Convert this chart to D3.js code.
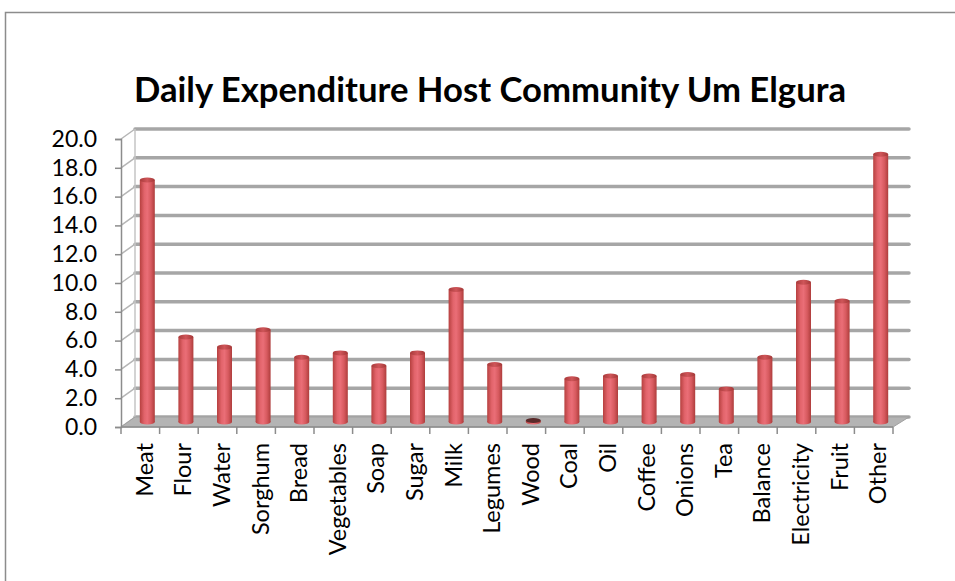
<!DOCTYPE html>
<html>
<head>
<meta charset="utf-8">
<script src="https://cdn.jsdelivr.net/npm/d3@7"></script>
<style>
  html, body { margin: 0; padding: 0; background: #fff; }
  svg { display: block; }
</style>
</head>
<body>
<svg id="chart" width="955" height="581"></svg>
<script>
// Daily expenditure by item
const categories = ["Meat", "Flour", "Water", "Sorghum", "Bread", "Vegetables", "Soap", "Sugar", "Milk", "Legumes",
                    "Wood", "Coal", "Oil", "Coffee", "Onions", "Tea", "Balance", "Electricity", "Fruit", "Other"];
const values = [16.8, 5.9, 5.2, 6.4, 4.5, 4.8, 3.9, 4.8, 9.2, 4.0,
                0.1, 3.0, 3.2, 3.2, 3.3, 2.3, 4.5, 9.7, 8.4, 18.6];
const yTicks = [0, 2, 4, 6, 8, 10, 12, 14, 16, 18, 20];
const titleText = "Daily Expenditure Host Community Um Elgura";

const svg = d3.select("#chart");
const W = 955, H = 581;
const font = "Lato, 'Open Sans', sans-serif";

// depth offset of the back wall relative to the front plane
const depth = { dx: 14, dy: -10 };

const x = d3.scaleBand().domain(categories).range([121, 893]).padding(0);
const y = d3.scaleLinear().domain([0, 20]).range([427, 139]);

// outer frame
svg.append("rect")
  .attr("x", 5.5).attr("y", 12.5)
  .attr("width", W + 10).attr("height", H + 10)
  .attr("fill", "#fff").attr("stroke", "#8c8c8c").attr("stroke-width", 1.5);

// title
svg.append("text")
  .attr("x", 490).attr("y", 102)
  .attr("text-anchor", "middle")
  .attr("font-family", font).attr("font-weight", "bold")
  .attr("font-size", 34)
  .attr("textLength", 712).attr("lengthAdjust", "spacingAndGlyphs")
  .attr("fill", "#000")
  .text(titleText);

const x0 = x.range()[0], x1 = x.range()[1];

// back wall gridlines
svg.append("g").selectAll("line.grid")
  .data(yTicks).join("line")
  .attr("x1", x0 + depth.dx).attr("x2", x1 + depth.dx + 2)
  .attr("y1", d => y(d) + depth.dy).attr("y2", d => y(d) + depth.dy)
  .attr("stroke", "#a6a6a6").attr("stroke-width", 3.5)
  .attr("stroke-linecap", "round");

// side wall gridlines
svg.append("g").selectAll("line.side")
  .data(yTicks).join("line")
  .attr("x1", x0).attr("x2", x0 + depth.dx)
  .attr("y1", d => y(d)).attr("y2", d => y(d) + depth.dy)
  .attr("stroke", "#b5b5b5").attr("stroke-width", 1.5);

// back wall left edge
svg.append("line")
  .attr("x1", x0 + depth.dx).attr("x2", x0 + depth.dx)
  .attr("y1", y(0) + depth.dy).attr("y2", y(20) + depth.dy)
  .attr("stroke", "#c4c4c4").attr("stroke-width", 1.5);

// floor
const floorPts = [[x0, y(0)], [x1, y(0)], [x1 + depth.dx + 2, y(0) + depth.dy], [x0 + depth.dx, y(0) + depth.dy]];
svg.append("polygon")
  .attr("points", floorPts.map(p => p.join(",")).join(" "))
  .attr("fill", "#b4b4b4").attr("stroke", "#a0a0a0").attr("stroke-width", 1);

// cylinder shading
const defs = svg.append("defs");
const body = defs.append("linearGradient").attr("id", "cyl").attr("x1", 0).attr("x2", 1).attr("y1", 0).attr("y2", 0);
[[0, "#b6403f"], [0.3, "#e2646b"], [0.5, "#ea6e77"], [0.75, "#d75a5f"], [1, "#ae3d3c"]]
  .forEach(([o, c]) => body.append("stop").attr("offset", o).attr("stop-color", c));
const cap = defs.append("linearGradient").attr("id", "cap").attr("x1", 0).attr("x2", 1).attr("y1", 0).attr("y2", 0);
[[0, "#a83a3a"], [0.5, "#cf5559"], [1, "#a33837"]]
  .forEach(([o, c]) => cap.append("stop").attr("offset", o).attr("stop-color", c));

const barW = 15, ry = 2.5;
const cx = d => x(d.c) + x.bandwidth() / 2 + depth.dx / 2;
const yb = v => y(v) + depth.dy / 2;
const data = categories.map((c, i) => ({ c, v: values[i] }));

const bars = svg.append("g").selectAll("g.bar").data(data).join("g");
bars.append("ellipse")
  .attr("cx", cx).attr("cy", yb(0))
  .attr("rx", barW / 2).attr("ry", ry)
  .attr("fill", "url(#cyl)");
bars.append("rect")
  .attr("x", d => cx(d) - barW / 2).attr("width", barW)
  .attr("y", d => yb(d.v)).attr("height", d => yb(0) - yb(d.v))
  .attr("fill", "url(#cyl)");
bars.append("ellipse")
  .attr("cx", cx).attr("cy", d => yb(d.v))
  .attr("rx", barW / 2).attr("ry", ry)
  .attr("fill", d => d.v < 0.5 ? "#5a2a2a" : "url(#cap)");

// value axis
const yAxis = svg.append("g")
  .attr("transform", `translate(${x0},0)`)
  .call(d3.axisLeft(y).tickValues(yTicks).tickFormat(d3.format(".1f")).tickSize(6).tickPadding(18));
yAxis.select(".domain").attr("stroke", "#8c8c8c").attr("stroke-width", 1.5);
yAxis.selectAll(".tick line").attr("stroke", "#8c8c8c").attr("stroke-width", 1.5);
yAxis.selectAll(".tick text")
  .attr("font-family", font).attr("font-size", 23).attr("fill", "#000");

// category axis
const xg = svg.append("g");
xg.append("line")
  .attr("x1", x0).attr("x2", x1).attr("y1", y(0)).attr("y2", y(0))
  .attr("stroke", "#8c8c8c").attr("stroke-width", 1.5);
xg.selectAll("line.tick")
  .data(categories.map(c => x(c)).concat([x1])).join("line")
  .attr("x1", d => d).attr("x2", d => d)
  .attr("y1", y(0)).attr("y2", y(0) + 7)
  .attr("stroke", "#8c8c8c").attr("stroke-width", 1.5);
xg.selectAll("text")
  .data(categories).join("text")
  .attr("transform", c => `translate(${x(c) + x.bandwidth() / 2 + 4},443) rotate(-90)`)
  .attr("text-anchor", "end")
  .attr("dy", "0.36em")
  .attr("font-family", font).attr("font-size", 23.5).attr("fill", "#000")
  .text(c => c);
</script>
</body>
</html>
